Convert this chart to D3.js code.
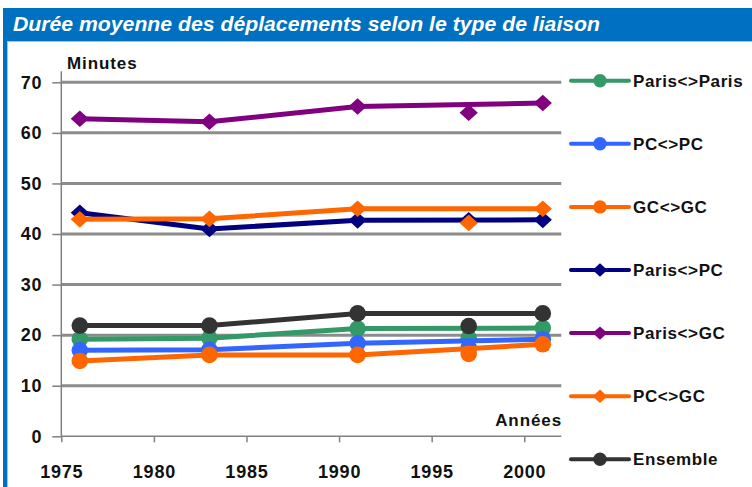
<!DOCTYPE html>
<html>
<head>
<meta charset="utf-8">
<script src="https://cdn.jsdelivr.net/npm/d3@7"></script>
<style>
  html, body { margin: 0; padding: 0; background: #fff; }
  svg { display: block; }
  text { font-family: "Liberation Sans", Arial, sans-serif; }
</style>
</head>
<body>
<svg id="chart" width="752" height="487"></svg>
<script>
// ---- data ----
const title = "Durée moyenne des déplacements selon le type de liaison";
const years = [1976, 1983, 1991, 1997, 2001];
// whether each survey point is joined by the series line (1997 points are plotted apart)
const onLine = [true, true, true, false, true];
const seriesNames = ["Paris<>Paris", "PC<>PC", "GC<>GC", "Paris<>PC", "Paris<>GC", "PC<>GC", "Ensemble"];
const parisParis = [19.2, 19.4, 21.3, 19.4, 21.4];
const pcPc       = [17.0, 17.1, 18.4, 17.5, 19.2];
const gcGc       = [14.9, 16.1, 16.1, 16.3, 18.2];
const parisPc    = [44.2, 41.0, 42.7, 42.7, 42.8];
const parisGc    = [62.8, 62.2, 65.2, 64.0, 65.9];
const pcGc       = [42.9, 43.0, 45.0, 42.2, 45.0];
const ensemble   = [21.9, 21.9, 24.3, 21.8, 24.3];
const seriesValues = [parisParis, pcPc, gcGc, parisPc, parisGc, pcGc, ensemble];
const seriesColors = ["#339966", "#3366FF", "#FF6600", "#000080", "#800080", "#FF6600", "#333333"];
const seriesShapes = ["circle", "circle", "circle", "diamond", "diamond", "diamond", "circle"];
const yTicks = [0, 10, 20, 30, 40, 50, 60, 70];
const xTicks = [1975, 1980, 1985, 1990, 1995, 2000];
const yLabel = "Minutes";
const xLabel = "Années";

// ---- drawing ----
const svg = d3.select("#chart");
const x = d3.scaleLinear().domain([1975, 2002]).range([61.3, 561.3]);
const y = d3.scaleLinear().domain([0, 70]).range([436.3, 82.3]);

// frame / banner
svg.append("rect").attr("x", 3).attr("y", 8).attr("width", 749).attr("height", 33).attr("fill", "#0070C0");
svg.append("rect").attr("x", 3).attr("y", 41).attr("width", 749).attr("height", 1).attr("fill", "#9DC3E6");
svg.append("rect").attr("x", 3).attr("y", 41).attr("width", 4).attr("height", 446).attr("fill", "#0070C0");
svg.append("rect").attr("x", 7).attr("y", 42).attr("width", 1).attr("height", 445).attr("fill", "#9DC3E6");
svg.append("text").attr("x", 13).attr("y", 30.5)
  .attr("fill", "#fff").attr("font-size", 21).attr("font-weight", "bold").attr("font-style", "italic")
  .attr("textLength", 587).attr("lengthAdjust", "spacingAndGlyphs")
  .text(title);

// gridlines
svg.append("g").selectAll("line").data(yTicks.filter(d => d > 0)).join("line")
  .attr("x1", x(1975)).attr("x2", x(2002))
  .attr("y1", d => y(d)).attr("y2", d => y(d))
  .attr("stroke", "#8C8C8C").attr("stroke-width", 3);

// y axis
const yAxis = svg.append("g").attr("transform", `translate(${x(1975)},0)`)
  .call(d3.axisLeft(y).tickValues(yTicks).tickSize(9).tickPadding(10).tickFormat(d3.format("d")));
yAxis.select(".domain").attr("d", `M0,${y(72.2)}V${y(0)}`);
// x axis
const xAxis = svg.append("g").attr("transform", `translate(0,${y(0)})`)
  .call(d3.axisBottom(x).tickValues(xTicks).tickSize(6).tickPadding(23).tickFormat(d3.format("d")));
xAxis.select(".domain").attr("d", `M${x(1975)},0H${x(2002)}`);
[yAxis, xAxis].forEach(a => {
  a.select(".domain").attr("stroke", "#808080").attr("stroke-width", 1.5);
  a.selectAll(".tick line").attr("stroke", "#808080").attr("stroke-width", 1.5);
  a.selectAll(".tick text").attr("fill", "#111").attr("font-size", 18).attr("font-weight", "bold")
    .attr("font-family", "'Liberation Sans', Arial, sans-serif").attr("letter-spacing", 0.8);
});

svg.append("text").attr("x", 67).attr("y", 69).attr("font-size", 17).attr("font-weight", "bold")
  .attr("letter-spacing", 0.9).attr("fill", "#111").text(yLabel);
svg.append("text").attr("x", 562).attr("y", 426).attr("text-anchor", "end").attr("font-size", 17)
  .attr("font-weight", "bold").attr("letter-spacing", 0.9).attr("fill", "#111").text(xLabel);

function drawMarker(g, shape, cx, cy, r, color) {
  if (shape === "circle") {
    g.append("circle").attr("cx", cx).attr("cy", cy).attr("r", r).attr("fill", color);
  } else {
    const w = r * 1.1, h = r;
    g.append("path").attr("d", `M${cx},${cy - h}L${cx + w},${cy}L${cx},${cy + h}L${cx - w},${cy}Z`)
      .attr("fill", color);
  }
}

const line = d3.line().x(d => x(d.year)).y(d => y(d.value));
seriesValues.forEach((vals, i) => {
  const g = svg.append("g");
  const pts = years.map((yr, j) => ({ year: yr, value: vals[j], on: onLine[j] }));
  g.append("path").attr("d", line(pts.filter(p => p.on)))
    .attr("fill", "none").attr("stroke", seriesColors[i]).attr("stroke-width", 5)
    .attr("stroke-linejoin", "round");
  pts.forEach(p => drawMarker(g, seriesShapes[i], x(p.year), y(p.value), 8.3, seriesColors[i]));
});

// legend
const legend = svg.append("g");
seriesNames.forEach((name, i) => {
  const ly = 80.7 + i * 63.1;
  const g = legend.append("g");
  g.append("line").attr("x1", 571).attr("x2", 629).attr("y1", ly).attr("y2", ly)
    .attr("stroke", seriesColors[i]).attr("stroke-width", 4).attr("stroke-linecap", "round");
  drawMarker(g, seriesShapes[i], 600, ly, 6.7, seriesColors[i]);
  g.append("text").attr("x", 633).attr("y", ly).attr("dy", "0.36em").attr("font-size", 17)
    .attr("font-weight", "bold").attr("letter-spacing", 0.6).attr("fill", "#111").text(name);
});
</script>
</body>
</html>
